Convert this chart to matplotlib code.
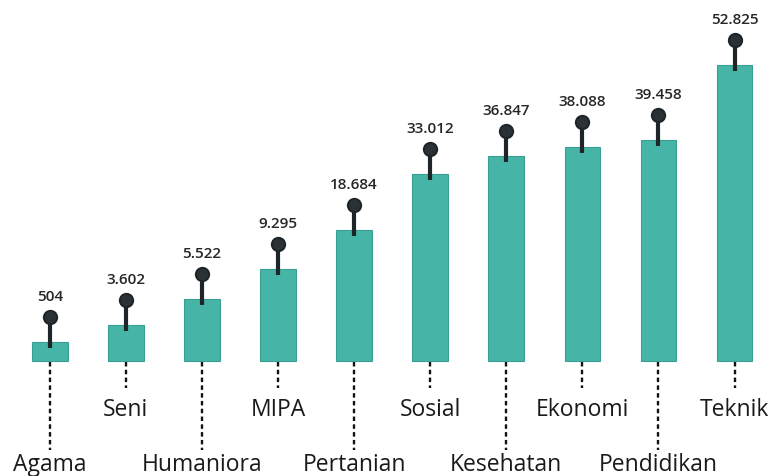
import matplotlib.pyplot as plt

plt.rcParams['font.family'] = ['Open Sans', 'DejaVu Sans']

categories = ['Agama', 'Seni', 'Humaniora', 'MIPA', 'Pertanian', 'Sosial',
              'Kesehatan', 'Ekonomi', 'Pendidikan', 'Teknik']
values = [504, 3602, 5522, 9295, 18684, 33012, 36847, 38088, 39458, 52825]
value_labels = ['504', '3.602', '5.522', '9.295', '18.684', '33.012',
                '36.847', '38.088', '39.458', '52.825']
# drawn bar heights (the infographic is not to scale)
bar_heights = [19, 36, 62, 92, 131, 187, 205, 214, 221, 296]

bar_color = '#46b5a8'
pin_color = '#1e2529'

fig = plt.figure(figsize=(7.74, 4.77), dpi=100)
ax = fig.add_axes([0, 0, 1, 1])

x = list(range(len(categories)))
ax.bar(x, bar_heights, width=0.47, color=bar_color, edgecolor='#3a9f93',
       linewidth=0.8, zorder=2)

pin_gap = 25
for i, h in enumerate(bar_heights):
    top = h + pin_gap
    ax.plot([i, i], [h - 6, top], color=pin_color, lw=3, zorder=3,
            solid_capstyle='butt')
    ax.plot(i, top, 'o', ms=9.5, color='#2b3236', mec=pin_color, mew=1.5, zorder=4)
    ax.text(i, top + 21, value_labels[i], ha='center', va='center',
            fontsize=11, fontweight='semibold', color='#262626', zorder=5)

    # dashed leader lines with alternating label rows
    if i % 2 == 1:
        y_end, y_lab = -27, -48
    else:
        y_end, y_lab = -89, -103
    ax.plot([i, i], [-1, y_end], color='#111111', lw=1.7, ls=(0, (1.9, 1.4)), zorder=1)
    ax.text(i, y_lab, categories[i], ha='center', va='center', fontsize=16.5,
            color='#1a1a1a')

ax.set_xlim(-0.653, 9.518)
ax.set_ylim(-115, 362)
ax.axis('off')

fig.savefig('out.png', dpi=100)
